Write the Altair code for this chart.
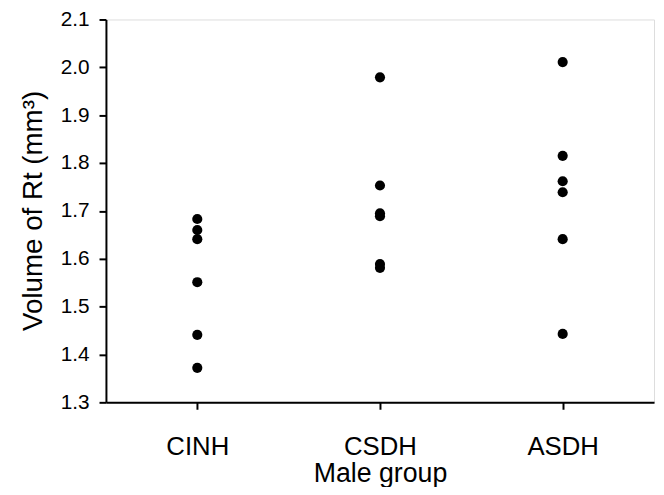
import altair as alt
import pandas as pd

groups = ["CINH", "CSDH", "ASDH"]
cinh = [1.683, 1.660, 1.641, 1.551, 1.441, 1.372]
csdh = [1.979, 1.753, 1.695, 1.689, 1.589, 1.581]
asdh = [2.011, 1.815, 1.762, 1.739, 1.641, 1.443]
y_ticks = [1.3, 1.4, 1.5, 1.6, 1.7, 1.8, 1.9, 2.0, 2.1]

rows = []
for g, vals in zip(groups, [cinh, csdh, asdh]):
    for v in vals:
        rows.append({"group": g, "volume": v})
df = pd.DataFrame(rows)

FONT = "Liberation Sans"

chart = alt.Chart(df).mark_circle(size=105, color="black", opacity=1).encode(
    x=alt.X("group:N", sort=groups,
            scale=alt.Scale(type="point", padding=0.5),
            axis=alt.Axis(title="Male group", labelAngle=0,
                          labelFontSize=26, titleFontSize=27,
                          labelFont=FONT, titleFont=FONT,
                          labelColor="black", titleColor="black",
                          titleFontWeight="normal",
                          tickSize=7, tickWidth=2, tickColor="black",
                          domainColor="black", domainWidth=2,
                          labelBaseline="alphabetic", labelPadding=46,
                          titleBaseline="alphabetic", titleY=80,
                          grid=False)),
    y=alt.Y("volume:Q",
            scale=alt.Scale(domain=[1.3, 2.1], nice=False, zero=False),
            axis=alt.Axis(title="Volume of Rt (mm³)", values=y_ticks, format=".1f",
                          labelFontSize=21, titleFontSize=28,
                          labelFont=FONT, titleFont=FONT,
                          labelColor="black", titleColor="black",
                          titleFontWeight="normal",
                          tickSize=7, tickWidth=2, tickColor="black",
                          domainColor="black", domainWidth=2,
                          labelPadding=10, labelBaseline="middle",
                          titleBaseline="alphabetic", titleX=-65, titleY=193,
                          grid=False)),
).properties(
    width=554, height=387,
    autosize=alt.AutoSizeParams(type="none"),
    padding={"left": 99, "top": 9, "right": 2, "bottom": 83},
).configure_view(
    stroke="black", strokeWidth=2
).configure(background="white")

chart.save("out.html", embed_options={"renderer": "svg", "actions": False})
